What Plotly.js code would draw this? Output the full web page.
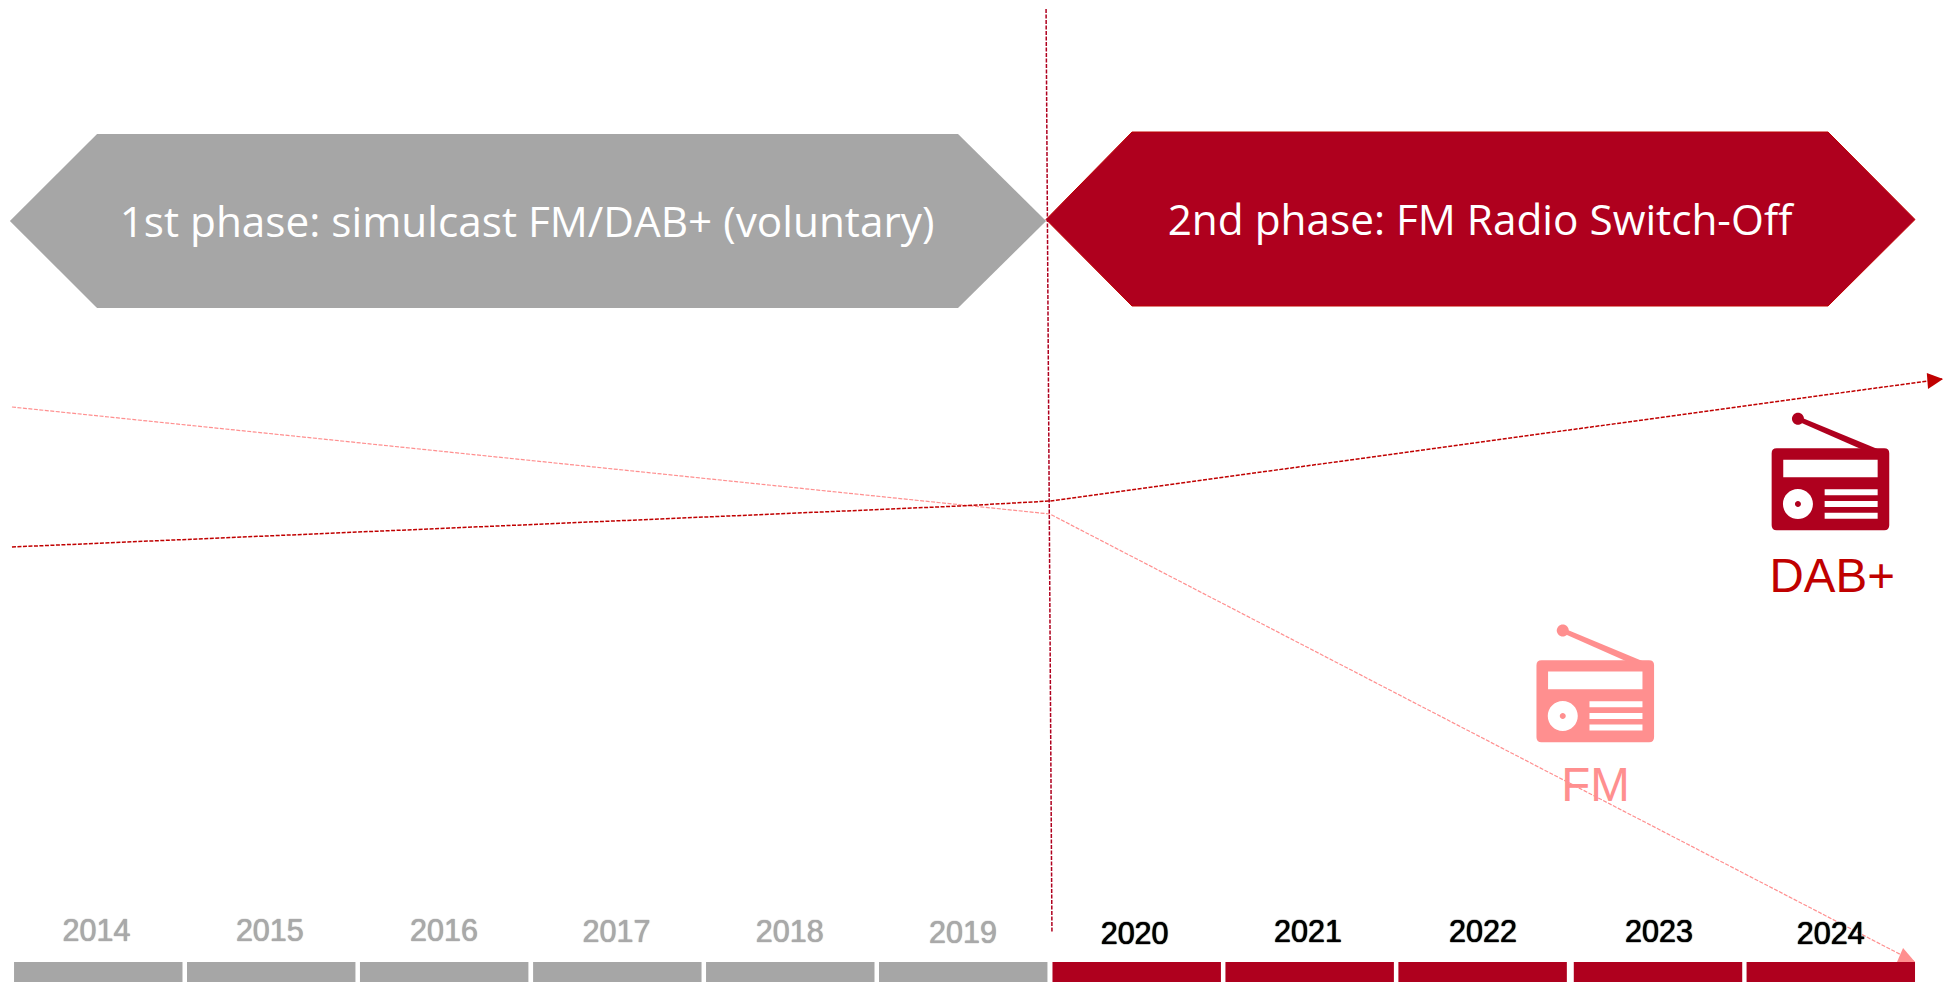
<!DOCTYPE html>
<html>
<head>
<meta charset="utf-8">
<script src="https://cdn.plot.ly/plotly-3.0.1.min.js"></script>
<style>html,body{margin:0;padding:0;background:#fff;overflow:hidden}#chart{width:1945px;height:982px}</style>
</head>
<body>
<div id="chart"></div>
<script>
// Timeline categories
const years = [2014, 2015, 2016, 2017, 2018, 2019, 2020, 2021, 2022, 2023, 2024];
const yearTicks = ['2014', '2015', '2016', '2017', '2018', '2019', '2020', '2021', '2022', '2023', '2024'];
const barX = [2014, 2014.998, 2015.996, 2016.995, 2017.993, 2018.991, 2019.992, 2020.99, 2021.988, 2023.0, 2023.997];
const barHeights = [20, 20, 20, 20, 20, 20, 20, 20, 20, 20, 20];
const yearLabelX = [2013.99, 2014.99, 2015.995, 2016.99, 2017.99, 2018.99, 2019.98, 2020.98, 2021.99, 2023.006, 2023.997];
const yearLabelY = [48.2, 48.8, 48.5, 48, 48, 46.2, 45.8, 47.5, 48, 47.5, 45.5];

// Trend lines
const fmX = [2013.502, 2019.491, 2024.483];
const fmY = [575, 468, 20];
const dabX = [2013.502, 2018.972, 2019.491, 2024.639];
const dabY = [435, 476, 481, 603];
const fmHeadX = [2024.379, 2024.414, 2024.483, 2024.379];
const fmHeadY = [20, 34, 20, 20];
const dabHeadX = [2024.551, 2024.645, 2024.558, 2024.551];
const dabHeadY = [609, 603, 593, 609];

// Phase banners and divider
const phase1X = [2013.490, 2013.993, 2018.961, 2019.469, 2018.961, 2013.993, 2013.490];
const phase1Y = [761, 848, 848, 761, 674, 674, 761];
const phase2X = [2019.469, 2019.965, 2023.981, 2024.483, 2023.981, 2019.965, 2019.469];
const phase2Y = [762.5, 850, 850, 762.5, 676, 676, 762.5];
const dividerX = [2019.469, 2019.503];
const dividerY = [973, 49];
const phaseLabels = ['1st phase: simulcast FM/DAB+ (voluntary)', '2nd phase: FM Radio Switch-Off'];
const phaseLabelX = [2016.474, 2021.973];
const phaseLabelY = [756, 757.5];

// Series labels and icons
const seriesLabels = ['DAB+', 'FM'];
const seriesLabelX = [2024.005, 2022.64];
const seriesLabelY = [401.5, 193];
const iconX = [2023.995, 2022.638];
const iconY = [492.7, 280.8];

const GREY = '#A6A6A6', CRIMSON = '#AF001E', RED = '#C00000', PINK = '#FF8F8F';
const FONT = 'Liberation Sans, Arial, sans-serif';

const circle = (cx, cy, r) => {
  const k = r * 0.5523;
  return `M${cx - r},${cy} C${cx - r},${cy + k} ${cx - k},${cy + r} ${cx},${cy + r} ` +
         `C${cx + k},${cy + r} ${cx + r},${cy + k} ${cx + r},${cy} ` +
         `C${cx + r},${cy - k} ${cx + k},${cy - r} ${cx},${cy - r} ` +
         `C${cx - k},${cy - r} ${cx - r},${cy - k} ${cx - r},${cy} Z `;
};
const rect = (x0, x1, y0, y1) => `M${x0},${y0} L${x1},${y0} L${x1},${y1} L${x0},${y1} Z `;
const radioPath =
  'M-53.8,41 L53.8,41 Q58.8,41 58.8,36 L58.8,-36 Q58.8,-41 53.8,-41 L-53.8,-41 Q-58.8,-41 -58.8,-36 L-58.8,36 Q-58.8,41 -53.8,41 Z ' +
  rect(-47.2, 47.2, 12, 29.6) +
  circle(-32.5, -14.7, 15) + circle(-32.5, -14.7, 3) +
  rect(-5.8, 47.2, -6, 0) + rect(-5.8, 47.2, -17.7, -11.7) + rect(-5.8, 47.2, -29.4, -23.4);
const antennaBall = circle(-32.5, 70.6, 6);
const antennaRod = 'M-31.65,72.85 L47.7,40 L31,40 L-33.35,68.35 Z';

const radioShapes = (x, y, colour) => [radioPath, antennaBall, antennaRod].map(path => ({
  type: 'path', path, fillcolor: colour, fillrule: 'evenodd', line: {width: 0},
  xref: 'x', yref: 'y', xsizemode: 'pixel', ysizemode: 'pixel', xanchor: x, yanchor: y, layer: 'above'
}));

const poly = (x, y, fill, lineColour) => ({
  type: 'scatter', mode: 'lines', x, y, fill: 'toself', fillcolor: fill,
  line: {color: lineColour || fill, width: lineColour ? 1 : 0}, hoverinfo: 'skip'
});
const dashed = (x, y, color, width) => ({
  type: 'scatter', mode: 'lines', x, y, line: {color, width, dash: '4px,1.5px'}, hoverinfo: 'skip'
});
const yearColour = years.map(y => y < 2020 ? '#A9A9A9' : '#000000');

const traces = [
  {type: 'bar', x: barX, y: barHeights, base: 0, width: 0.972,
   marker: {color: years.map(y => y < 2020 ? GREY : CRIMSON), line: {width: 0}}, hoverinfo: 'skip'},
  poly(phase1X, phase1Y, GREY),
  poly(phase2X, phase2Y, CRIMSON, RED),
  dashed(fmX, fmY, PINK, 1.2),
  dashed(dabX, dabY, RED, 1.5),
  dashed(dividerX, dividerY, CRIMSON, 1.5),
  poly(fmHeadX, fmHeadY, PINK),
  poly(dabHeadX, dabHeadY, RED),
  {type: 'scatter', mode: 'text', x: phaseLabelX, y: phaseLabelY, text: phaseLabels,
   textposition: 'middle center', textfont: {family: 'Open Sans, sans-serif', size: 42.3, color: '#FFFFFF'}, hoverinfo: 'skip'},
  {type: 'scatter', mode: 'text', x: yearLabelX, y: yearLabelY, text: yearTicks,
   textposition: 'middle center',
   textfont: {family: FONT, size: 30.5, color: yearColour, shadow: yearColour.map(c => `0 0 1px ${c}, 0 0 1px ${c}`)}, hoverinfo: 'skip'},
  {type: 'scatter', mode: 'text', x: seriesLabelX, y: seriesLabelY, text: seriesLabels,
   textposition: 'middle center', textfont: {family: FONT, size: 47.5, color: [RED, PINK]}, hoverinfo: 'skip'}
];

const layout = {
  width: 1945, height: 982,
  margin: {l: 0, r: 0, t: 0, b: 0, pad: 0},
  paper_bgcolor: '#FFFFFF', plot_bgcolor: '#FFFFFF',
  showlegend: false, barmode: 'overlay',
  xaxis: {range: [2013.433, 2024.656], visible: false, fixedrange: true},
  yaxis: {range: [0, 982], visible: false, fixedrange: true},
  shapes: [...radioShapes(iconX[0], iconY[0], CRIMSON), ...radioShapes(iconX[1], iconY[1], PINK)]
};

Plotly.newPlot('chart', traces, layout, {displayModeBar: false, staticPlot: true});
</script>
</body>
</html>
